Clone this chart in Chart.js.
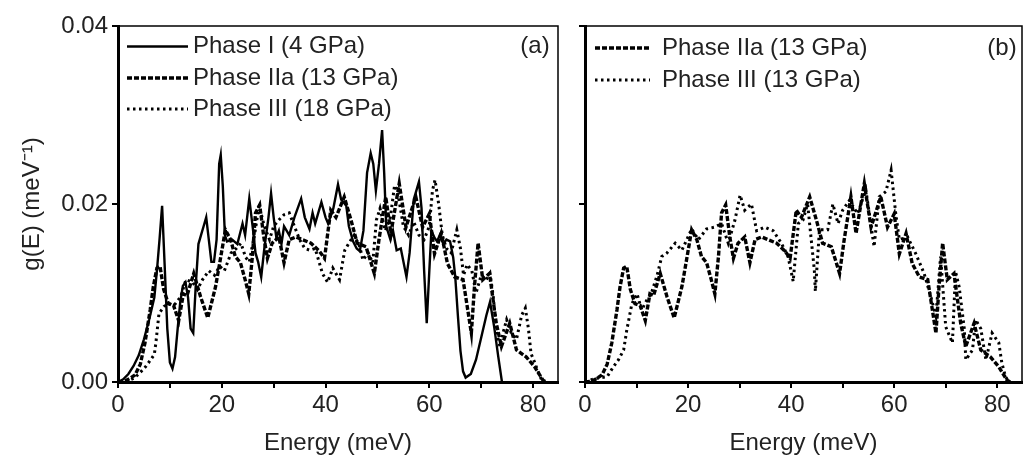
<!DOCTYPE html>
<html>
<head>
<meta charset="utf-8">
<script src="https://cdn.jsdelivr.net/npm/chart.js@4.4.1/dist/chart.umd.min.js"></script>
<style>
  html, body { margin: 0; padding: 0; background: #fff; overflow: hidden; }
  #wrap { position: relative; width: 1025px; height: 461px; }
  canvas { position: absolute; top: 0; }
  #panelA { left: 0; }
  #panelB { left: 560px; }
</style>
</head>
<body>
<div id="wrap">
  <canvas id="panelA" width="560" height="461"></canvas>
  <canvas id="panelB" width="465" height="461"></canvas>
</div>
<script>
// Phonon density of states g(E) per phase, as [energy (meV), g (meV^-1)] pairs.
const phaseI_4GPa = [
  [0,0],[1,0.0003],[2,0.0009],[3,0.0018],[4,0.003],[5,0.0048],[6,0.007],[7,0.0095],
  [7.5,0.0125],[8,0.016],[8.5,0.0198],[9,0.013],[9.5,0.006],[10,0.0022],[10.5,0.0015],
  [11,0.0028],[11.5,0.006],[12,0.009],[12.5,0.0108],[13,0.0112],[13.5,0.0095],[14,0.006],
  [14.5,0.0055],[15,0.011],[15.5,0.0155],[16,0.0165],[16.5,0.0175],[17,0.0185],[17.5,0.016],
  [18,0.0135],[18.5,0.0135],[19,0.016],[19.5,0.0245],[19.8,0.0255],[20.2,0.022],[20.6,0.0165],
  [21,0.0158],[22,0.016],[23,0.0155],[24,0.0178],[24.5,0.0165],[25.3,0.0206],[26,0.0172],
  [26.5,0.0145],[27,0.0135],[27.6,0.0118],[28.2,0.015],[29,0.0185],[29.5,0.0212],[30,0.0185],
  [30.5,0.0163],[31,0.017],[31.5,0.0155],[32,0.0175],[33,0.0165],[34,0.0185],[35.3,0.0206],
  [36,0.0185],[36.9,0.0172],[37.5,0.019],[38,0.0178],[39.2,0.0202],[40,0.0185],[40.5,0.0178],
  [41.5,0.0195],[42.4,0.0222],[43,0.0205],[44,0.0198],[44.5,0.0175],[45.3,0.0158],[46,0.015],
  [46.6,0.0147],[47.3,0.017],[48,0.0235],[48.7,0.0257],[49.2,0.0245],[49.7,0.0215],[50.3,0.0245],
  [50.9,0.0283],[51.3,0.0235],[51.7,0.0175],[52.5,0.016],[53,0.017],[53.7,0.0148],[54.5,0.015],
  [55.6,0.0118],[56.2,0.0145],[57,0.0205],[57.5,0.0215],[58,0.0225],[58.5,0.0195],[59,0.0125],
  [59.5,0.0066],[60,0.0125],[60.4,0.017],[61,0.0162],[61.5,0.0158],[62,0.0165],[62.7,0.0155],
  [63.3,0.016],[64,0.0158],[64.6,0.014],[65,0.0118],[65.5,0.0075],[66,0.0035],[66.5,0.0012],
  [67,0.0005],[68,0.0009],[69,0.0025],[70,0.005],[71,0.0075],[71.7,0.009],[72.5,0.0062],
  [73.3,0.0028],[74,0]
];

const phaseIIa_13GPa = [
  [0,0],[1.35,0.0001],[2.3,0.0004],[3.3,0.0008],[4.3,0.002],[5.2,0.0044],[6.2,0.0081],
  [6.8,0.0107],[7.5,0.0128],[8.1,0.013],[8.8,0.0104],[9.7,0.0088],[10.7,0.0086],[11.7,0.0069],
  [12.6,0.0099],[13.3,0.0097],[14.6,0.0122],[15.9,0.0096],[17.3,0.0072],[18.8,0.0107],
  [19.7,0.0137],[20.7,0.0171],[21.7,0.016],[22.6,0.0141],[23.6,0.0134],[24.5,0.0115],
  [25.2,0.0099],[25.9,0.0141],[26.5,0.019],[27.3,0.0199],[28.1,0.0163],[28.8,0.0139],
  [29.7,0.0156],[31,0.0163],[32,0.0134],[33,0.016],[34.3,0.0163],[35.5,0.016],[37.2,0.0156],
  [38.8,0.0147],[39.8,0.0139],[41,0.0193],[42,0.0185],[43.6,0.0208],[44.9,0.0182],[46.1,0.0156],
  [47.8,0.0152],[49.4,0.0122],[50.3,0.016],[51.6,0.0208],[52.6,0.0167],[54.2,0.0223],
  [55.5,0.0174],[57.4,0.0208],[58.7,0.0174],[60,0.0189],[61,0.0144],[62.3,0.0167],[63.5,0.0133],
  [64.9,0.0118],[66.5,0.0115],[68.1,0.0055],[68.7,0.0107],[69.4,0.0156],[70.3,0.0115],
  [71.6,0.0122],[72.9,0.0066],[73.9,0.004],[75.5,0.0066],[76.8,0.0036],[78.7,0.0028],
  [80.3,0.0017],[81.9,0.0002],[82.5,0]
];

const phaseIII_18GPa = [
  [1.5,0],[3,0.0004],[4,0.0009],[5.3,0.0017],[6.3,0.0025],[7,0.0031],[7.3,0.0044],[7.9,0.0077],
  [8.9,0.0085],[9.9,0.0088],[10.8,0.0086],[12.1,0.0096],[13.1,0.0115],[14.4,0.0112],[15.3,0.0104],
  [16.3,0.0115],[17.5,0.0125],[18.6,0.012],[19.6,0.013],[20.5,0.0125],[21.8,0.0145],[22.8,0.015],
  [23.7,0.0156],[24.6,0.014],[25.3,0.0135],[26.3,0.0165],[27.2,0.0198],[28.2,0.0175],[29.2,0.016],
  [30,0.0175],[31,0.0182],[32,0.0188],[33,0.019],[34,0.0175],[35,0.016],[36,0.015],[37,0.0148],
  [38,0.015],[39.4,0.0122],[40.4,0.0112],[41.4,0.0128],[42.7,0.0115],[43.7,0.0148],[44.6,0.0157],
  [45.5,0.0165],[46.6,0.0152],[47.2,0.0137],[48.2,0.0145],[49.1,0.0134],[49.8,0.0182],[50.5,0.0195],
  [51.5,0.017],[52.5,0.0185],[53.3,0.0221],[54,0.021],[55,0.0175],[56,0.0165],[57,0.018],
  [58,0.0165],[59,0.016],[60,0.0175],[60.6,0.0215],[61.1,0.0227],[61.8,0.02],[62.5,0.0165],
  [63.3,0.015],[64.2,0.0145],[65.3,0.0171],[66,0.015],[66.6,0.012],[67.3,0.0132],[68.2,0.0125],
  [69,0.01],[70,0.012],[71,0.0115],[71.7,0.0122],[72.3,0.0097],[73,0.0055],[73.6,0.004],
  [74.2,0.0055],[74.9,0.007],[75.8,0.0055],[76.8,0.0048],[77.8,0.0075],[78.5,0.0083],[79.1,0.006],
  [79.6,0.0032],[80.3,0.0022],[81,0.0011],[81.6,0.0003],[82.2,0]
];

const phaseIII_13GPa = [
  [0,0],[2,0.0004],[3.2,0.0005],[4.3,0.0006],[5.5,0.0017],[6.5,0.0025],[7.5,0.0036],[8.1,0.0058],
  [9.1,0.0088],[10.1,0.0099],[11,0.0081],[12,0.0092],[12.9,0.01],[14,0.012],[14.9,0.0141],
  [15.9,0.0145],[17.5,0.0156],[18.8,0.0148],[20.7,0.0172],[22,0.016],[23.6,0.0172],[25.2,0.0174],
  [26.5,0.0178],[27.8,0.0156],[29.1,0.0182],[30.1,0.021],[31,0.0193],[32.3,0.02],[33.3,0.017],
  [34.9,0.0174],[36.5,0.017],[38.1,0.0156],[39.4,0.0141],[40.4,0.0113],[41.4,0.0178],[42.3,0.0182],
  [43.2,0.02],[43.9,0.016],[44.5,0.0126],[44.7,0.0102],[45.5,0.0171],[47.1,0.0171],[48.1,0.02],
  [49.1,0.0178],[50,0.0193],[51.3,0.0204],[52.9,0.0189],[54.5,0.0216],[56.1,0.0152],[57.1,0.0208],
  [58.4,0.0214],[59.4,0.0238],[60.3,0.0189],[61,0.016],[62.6,0.0163],[64.2,0.0144],[65.8,0.0122],
  [67.1,0.0096],[68.1,0.0074],[69,0.0141],[70,0.0062],[71.3,0.0044],[71.9,0.0124],[72.6,0.0107],
  [73.6,0.006],[73.9,0.0025],[75.2,0.0036],[75.8,0.007],[76.8,0.006],[77.8,0.0025],[79,0.0055],
  [80.3,0.0044],[80.9,0.0021],[81.6,0.0006],[82.3,0]
];

// Axis range and tick labels
const energyRange = [0, 84.8];
const gRange = [0, 0.04];
const gTicks = ['0.00', '0.02', '0.04'];

const FONT = "'Liberation Sans', Arial, sans-serif";
const FONT_SIZE = 24;
const INK = '#222';

const toPoints = arr => arr.map(([x, y]) => ({ x, y }));

const lineStyles = {
  solid:  { borderWidth: 2.4, borderDash: [] },
  dashed: { borderWidth: 3.4, borderDash: [5, 2] },
  dotted: { borderWidth: 3,   borderDash: [2.5, 3.5] }
};

function series(label, pts, style) {
  return Object.assign({
    label,
    data: toPoints(pts),
    borderColor: '#000',
    backgroundColor: '#000',
    pointRadius: 0,
    tension: 0,
    fill: false
  }, lineStyles[style]);
}

// Frame (top/right edges), in-plot legend and panel tag
const panelDecor = {
  id: 'panelDecor',
  afterDraw(chart, args, o) {
    const { ctx, chartArea: a } = chart;
    ctx.save();
    ctx.strokeStyle = '#000';
    ctx.lineWidth = 1.5;
    ctx.setLineDash([]);
    ctx.beginPath();
    ctx.moveTo(a.left, a.top);
    ctx.lineTo(a.right, a.top);
    ctx.lineTo(a.right, a.bottom);
    ctx.stroke();

    ctx.font = FONT_SIZE + 'px ' + FONT;
    ctx.fillStyle = INK;
    ctx.textBaseline = 'middle';
    chart.data.datasets.forEach((ds, i) => {
      const y = o.rowY[i];
      ctx.lineWidth = ds.borderWidth;
      ctx.setLineDash(ds.borderDash || []);
      ctx.beginPath();
      ctx.moveTo(a.left + o.lineFrom, y);
      ctx.lineTo(a.left + o.lineTo, y);
      ctx.stroke();
      ctx.setLineDash([]);
      ctx.textAlign = 'left';
      ctx.fillText(ds.label, a.left + o.textAt, y);
    });
    ctx.textAlign = 'center';
    ctx.fillText(o.tag, a.right - o.tagInset, o.rowY[0]);
    ctx.restore();
  }
};

function makeOptions(cfg) {
  return {
    responsive: false,
    animation: false,
    devicePixelRatio: 1,
    layout: { padding: { left: 0, right: cfg.padRight, top: 26, bottom: 0 } },
    plugins: {
      legend: { display: false },
      tooltip: { enabled: false },
      panelDecor: cfg.decor
    },
    scales: {
      x: {
        type: 'linear',
        min: energyRange[0],
        max: energyRange[1],
        ticks: {
          stepSize: 10,
          includeBounds: false,
          autoSkip: false,
          maxRotation: 0,
          padding: 3,
          color: INK,
          font: { family: FONT, size: FONT_SIZE },
          callback: v => (Math.round(v) % 20 === 0 ? String(Math.round(v)) : '')
        },
        grid: { drawOnChartArea: false, drawTicks: true, tickLength: 6, color: '#000', lineWidth: 2 },
        border: { display: true, color: '#000', width: 3 },
        title: {
          display: true, text: 'Energy (meV)', color: INK,
          font: { family: FONT, size: FONT_SIZE }, padding: { top: 0, bottom: 3 }
        },
        afterFit: s => { s.height = 79; }
      },
      y: {
        type: 'linear',
        min: gRange[0],
        max: gRange[1],
        ticks: {
          display: cfg.showY,
          stepSize: 0.02,
          padding: 4,
          color: INK,
          font: { family: FONT, size: FONT_SIZE },
          callback: (v, i) => gTicks[i]
        },
        grid: { drawOnChartArea: false, drawTicks: true, tickLength: 6, color: '#000', lineWidth: 2 },
        border: { display: true, color: '#000', width: 3 },
        title: {
          display: cfg.showY, text: 'g(E) (meV\u207B\u00B9)', color: INK,
          font: { family: FONT, size: FONT_SIZE }, padding: { top: 18, bottom: 0 }
        },
        afterFit: s => { s.width = cfg.yWidth; }
      }
    }
  };
}

new Chart(document.getElementById('panelA'), {
  type: 'line',
  data: {
    datasets: [
      series('Phase I (4 GPa)', phaseI_4GPa, 'solid'),
      series('Phase IIa (13 GPa)', phaseIIa_13GPa, 'dashed'),
      series('Phase III (18 GPa)', phaseIII_18GPa, 'dotted')
    ]
  },
  options: makeOptions({
    padRight: 2, yWidth: 118, showY: true,
    decor: { rowY: [46.5, 78, 109], lineFrom: 9, lineTo: 70, textAt: 75, tag: '(a)', tagInset: 23 }
  }),
  plugins: [panelDecor]
});

new Chart(document.getElementById('panelB'), {
  type: 'line',
  data: {
    datasets: [
      series('Phase IIa (13 GPa)', phaseIIa_13GPa, 'dashed'),
      series('Phase III (13 GPa)', phaseIII_13GPa, 'dotted')
    ]
  },
  options: makeOptions({
    padRight: 3, yWidth: 25, showY: false,
    decor: { rowY: [48, 80], lineFrom: 10, lineTo: 65, textAt: 77, tag: '(b)', tagInset: 20 }
  }),
  plugins: [panelDecor]
});
</script>
</body>
</html>
